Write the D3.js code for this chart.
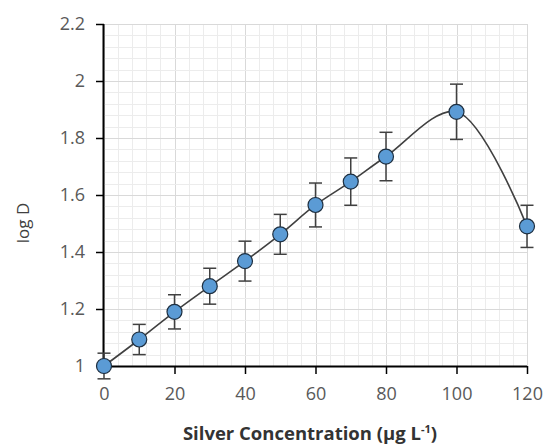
<!DOCTYPE html>
<html><head><meta charset="utf-8">
<script src="https://cdn.jsdelivr.net/npm/d3@7"></script>
<style>body{margin:0;background:#fff;} svg{display:block;}</style>
</head><body>
<svg id="c" width="547" height="445"></svg>
<script>
const concentrations = [0, 10, 20, 30, 40, 50, 60, 70, 80, 100, 120];
const logD = [1.0, 1.093, 1.19, 1.28, 1.368, 1.462, 1.565, 1.647, 1.735, 1.892, 1.49];
const errors = [0.045, 0.053, 0.06, 0.063, 0.07, 0.07, 0.077, 0.083, 0.085, 0.097, 0.074];
const xTicks = [0, 20, 40, 60, 80, 100, 120];
const yTicks = [1, 1.2, 1.4, 1.6, 1.8, 2, 2.2];

const svg = d3.select("#c");
const L = 104, R = 527, T = 24, B = 366;
const x = d3.scaleLinear().domain([0, 120]).range([L, R]);
const y = d3.scaleLinear().domain([1, 2.2]).range([B, T]);
const font = "'Open Sans', Lato, sans-serif";

// grid
const g = svg.append("g");
g.selectAll(".vx").data(d3.range(0, 121, 4)).enter().append("line")
  .attr("x1", d => Math.round(x(d)) + 0.5).attr("x2", d => Math.round(x(d)) + 0.5)
  .attr("y1", T).attr("y2", B)
  .attr("stroke", d => d % 20 === 0 ? "#d9d9d9" : "#ececec").attr("stroke-width", 1);
g.selectAll(".hy").data(d3.range(0, 31).map(i => 1 + i * 0.04)).enter().append("line")
  .attr("y1", d => Math.round(y(d)) + 0.5).attr("y2", d => Math.round(y(d)) + 0.5)
  .attr("x1", L).attr("x2", R)
  .attr("stroke", (d, i) => i % 5 === 0 ? "#d9d9d9" : "#ececec").attr("stroke-width", 1);

// axes
const xa = svg.append("g").attr("transform", `translate(0,${B})`)
  .call(d3.axisBottom(x).tickValues(xTicks).tickSize(8).tickPadding(13).tickFormat(d3.format("d")));
const ya = svg.append("g").attr("transform", `translate(${L},0)`)
  .call(d3.axisLeft(y).tickValues(yTicks).tickSize(8).tickPadding(11).tickFormat(d => String(+d.toFixed(1))));
[xa, ya].forEach(a => {
  a.select(".domain").attr("stroke", "#000").attr("stroke-width", 2);
  a.selectAll(".tick line").attr("stroke", "#000").attr("stroke-width", 1.5);
  a.selectAll("text").attr("fill", "#595959").style("font-family", font).style("font-size", "18px");
});
ya.select(".domain").attr("d", `M-0.5,${T}V${B}`);
xa.select(".domain").attr("d", `M${L},0.5H${R}`);

// curve
const pts = concentrations.map((c, i) => [x(c), y(logD[i])]);
svg.append("path").attr("d", d3.line().curve(d3.curveCatmullRom.alpha(0.5))(pts))
  .attr("fill", "none").attr("stroke", "#404040").attr("stroke-width", 1.6);

// error bars
const eb = svg.append("g").attr("stroke", "#404040").attr("stroke-width", 1.5);
concentrations.forEach((c, i) => {
  const cx = x(c), y1 = y(logD[i] + errors[i]), y2 = y(logD[i] - errors[i]);
  eb.append("line").attr("x1", cx).attr("x2", cx).attr("y1", y1).attr("y2", y2);
  eb.append("line").attr("x1", cx - 6.5).attr("x2", cx + 6.5).attr("y1", y1).attr("y2", y1);
  eb.append("line").attr("x1", cx - 6.5).attr("x2", cx + 6.5).attr("y1", y2).attr("y2", y2);
});

// markers
svg.append("g").selectAll("circle").data(concentrations).enter().append("circle")
  .attr("cx", d => x(d)).attr("cy", (d, i) => y(logD[i])).attr("r", 7.5)
  .attr("fill", "#5b9bd5").attr("stroke", "#1e2f40").attr("stroke-width", 1.2);

// titles
const xt = svg.append("text").attr("x", 310).attr("y", 440).attr("text-anchor", "middle")
  .attr("fill", "#333").style("font-family", font).style("font-size", "18.5px").style("font-weight", "bold");
xt.append("tspan").text("Silver Concentration (µg L");
xt.append("tspan").attr("dy", -7).style("font-size", "11px").text("-1");
xt.append("tspan").attr("dy", 7).text(")");
svg.append("text").attr("transform", "translate(29,223) rotate(-90)").attr("text-anchor", "middle")
  .attr("fill", "#404040").style("font-family", font).style("font-size", "17px")
  .text("log D");
</script>
</body></html>
